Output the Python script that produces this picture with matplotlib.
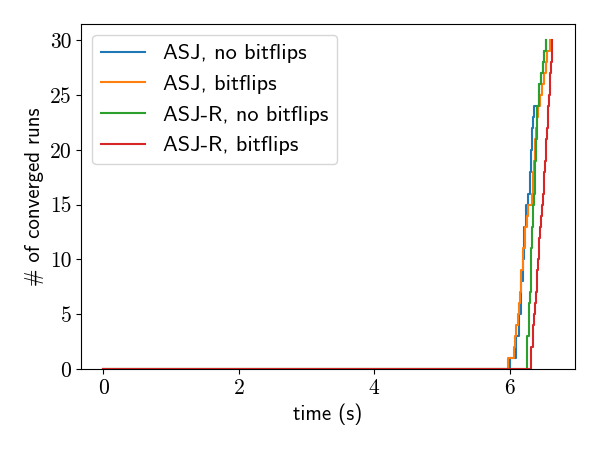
import matplotlib
matplotlib.use("Agg")
import matplotlib.pyplot as plt
from matplotlib.ticker import FuncFormatter

labels = ["ASJ, no bitflips", "ASJ, bitflips", "ASJ-R, no bitflips", "ASJ-R, bitflips"]
colors = ["#1f77b4", "#ff7f0e", "#2ca02c", "#d62728"]

# convergence times (s) of the 30 runs, sorted
asj_nobf = [6.01, 6.10, 6.10, 6.13, 6.13, 6.16, 6.16, 6.16, 6.19, 6.19,
            6.21, 6.21, 6.21, 6.24, 6.24, 6.27, 6.30, 6.30, 6.31, 6.32,
            6.33, 6.33, 6.35, 6.36, 6.43, 6.43, 6.46, 6.49, 6.50, 6.53]
asj_bf = [5.98, 6.07, 6.08, 6.10, 6.12, 6.14, 6.15, 6.16, 6.17, 6.19,
          6.20, 6.22, 6.23, 6.25, 6.27, 6.33, 6.34, 6.35, 6.36, 6.37,
          6.38, 6.39, 6.41, 6.42, 6.45, 6.48, 6.50, 6.53, 6.55, 6.60]
asjr_nobf = [6.25, 6.26, 6.26, 6.28, 6.29, 6.29, 6.30, 6.31, 6.31, 6.32,
             6.32, 6.33, 6.33, 6.34, 6.35, 6.36, 6.37, 6.37, 6.38, 6.39,
             6.39, 6.40, 6.41, 6.41, 6.43, 6.43, 6.46, 6.49, 6.50, 6.53]
asjr_bf = [6.31, 6.32, 6.34, 6.35, 6.36, 6.37, 6.39, 6.40, 6.41, 6.42,
           6.43, 6.44, 6.45, 6.46, 6.47, 6.49, 6.50, 6.51, 6.52, 6.53,
           6.54, 6.55, 6.56, 6.57, 6.58, 6.59, 6.60, 6.61, 6.62, 6.63]

series = [asj_nobf, asj_bf, asjr_nobf, asjr_bf]

fig = plt.figure(figsize=(6, 4.5), dpi=100)
ax = fig.add_axes([0.135, 0.18, 0.823, 0.767])

for times, lab, col in zip(series, labels, colors):
    xs = [0.0] + list(times)
    ys = list(range(len(xs)))
    ax.step(xs, ys, where="post", color=col, label=lab, lw=1.5)

ax.set_ylim(bottom=0)
ax.set_xticks([0, 2, 4, 6])
ax.set_yticks([0, 5, 10, 15, 20, 25, 30])
ax.xaxis.set_major_formatter(FuncFormatter(lambda v, p: f"{v:g}"))
ax.yaxis.set_major_formatter(FuncFormatter(lambda v, p: f"{v:g}"))
for t in ax.get_xticklabels() + ax.get_yticklabels():
    t.set_fontfamily("cmr10")
    t.set_fontsize(15.5)

ax.set_xlabel("time (s)", fontfamily="cmss10", fontsize=15)
ax.set_ylabel("# of converged runs", fontfamily="cmss10", fontsize=15)
ax.legend(loc="upper left", prop={"family": "cmss10", "size": 16})

fig.savefig("out.png", dpi=100)
